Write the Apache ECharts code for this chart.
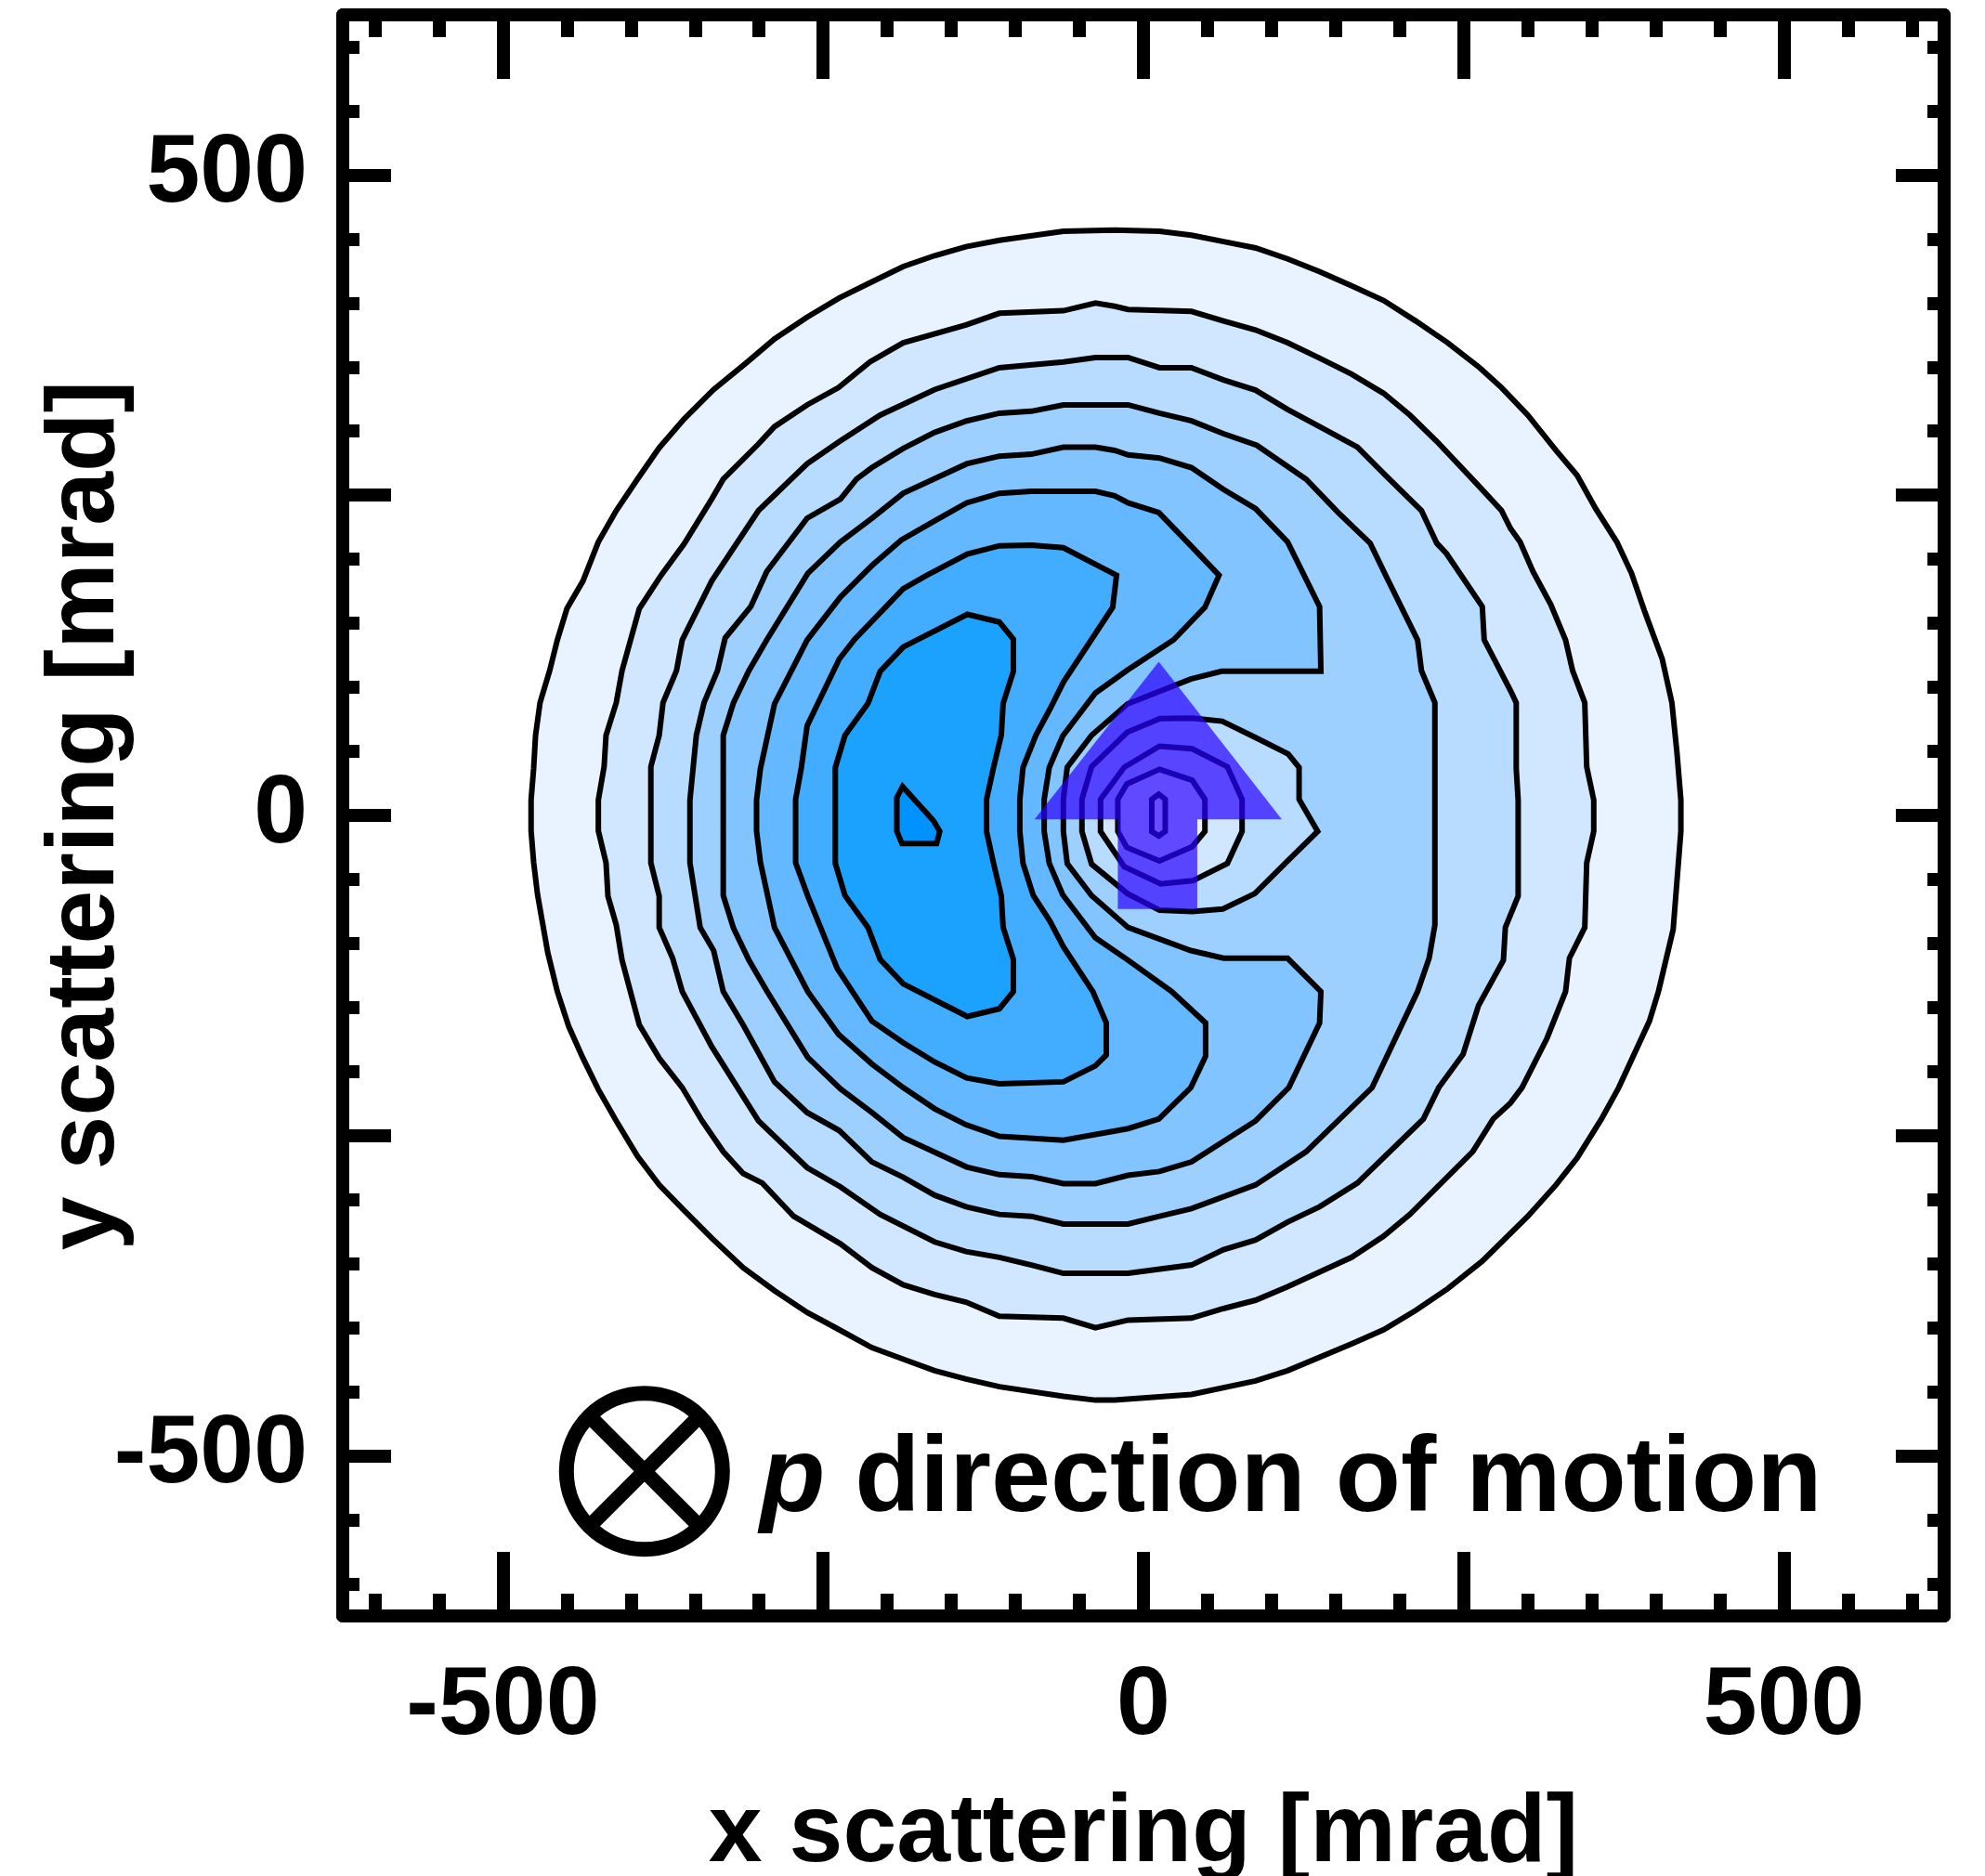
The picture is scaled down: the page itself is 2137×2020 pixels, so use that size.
<!DOCTYPE html>
<html>
<head>
<meta charset="utf-8">
<title>Scattering distribution</title>
<script src="https://cdn.jsdelivr.net/npm/echarts@6/dist/echarts.min.js"></script>
<style>
  html, body { margin: 0; padding: 0; background: #fff; }
  #chart { width: 2137px; height: 2020px; }
</style>
</head>
<body>
<div id="chart"></div>
<script>
// axis ticks and labels (mrad)
const majorTicks = [-500, -250, 0, 250, 500];
const minorTicks = [-600, -550, -500, -450, -400, -350, -300, -250, -200, -150, -100, -50,
  0, 50, 100, 150, 200, 250, 300, 350, 400, 450, 500, 550, 600];
const tickLabels = [-500, 0, 500];

// contour outlines, [x, y] in mrad, outermost first
const contour1 = [
  [-478, 12], [-476, 36.5], [-474.5, 62.5], [-471, 88], [-463.5, 113], [-457.5, 137], [-450, 161.5],
  [-437.5, 183], [-425.5, 213.5], [-411.5, 238], [-395, 262.5], [-378, 287], [-358.5, 309.5],
  [-335.5, 332.5], [-311, 352.5], [-288, 372], [-262.5, 389], [-237.5, 404], [-212, 416.5],
  [-187.5, 428.5], [-163, 437], [-138.5, 444], [-112.5, 449], [-62.5, 456], [-22.5, 457],
  [12.5, 456], [37.5, 453], [62.5, 448], [87.5, 443], [112.5, 434.5], [137.5, 424.5], [162.5, 413.5],
  [187.5, 402], [212.5, 386], [237.5, 369], [262.5, 349.5], [279.5, 334], [300, 312.5], [322, 285],
  [338.5, 265.5], [353, 239.5], [369.5, 213.5], [381, 189], [391.5, 158.5], [405, 122], [412.5, 88],
  [416.5, 48.5], [419.5, 12],
  [419.5, -12.5], [413.5, -89], [402, -137.5], [395, -160.5], [371, -212.5], [357.5, -237],
  [338.5, -267.5], [322, -288.5], [300, -313], [264.5, -348], [237.5, -369.5], [212.5, -386.5],
  [187.5, -401.5], [162.5, -412.5], [112.5, -433.5], [87.5, -441.5], [37.5, -452], [-22.5, -456.5],
  [-37.5, -456.5], [-62.5, -453.5], [-112.5, -446], [-138.5, -440], [-163, -433.5], [-187.5, -424.5],
  [-212, -415.5], [-237.5, -401.5], [-262.5, -388], [-288, -371], [-312.5, -353], [-337, -330],
  [-358.5, -308.5], [-378, -288.5], [-395, -266], [-411.5, -238.5], [-425.5, -214], [-437.5, -189.5],
  [-448.5, -165], [-457.5, -137.5], [-465, -107], [-473, -61.5], [-476, -36.5], [-478, -12]
];
const contour2 = [
  [-425.5, 12], [-421, 38], [-419.5, 62.5], [-411.5, 88], [-407, 113], [-393.5, 161.5], [-376.5, 187.5],
  [-358.5, 212], [-337, 247], [-328, 262.5], [-300.5, 290], [-288, 303.5], [-262.5, 320.5],
  [-238, 334], [-213.5, 354], [-187.5, 369], [-138.5, 383], [-112.5, 392], [-62.5, 394],
  [-37.5, 400], [-22.5, 397.5], [-12, 395],
  [37.5, 393.5], [62.5, 386], [87.5, 379], [112.5, 369], [137.5, 357], [162.5, 344.5], [187.5, 329.5],
  [208, 312.5], [229, 292], [261.5, 257.5], [279.5, 238], [286.5, 224], [294, 213.5], [304, 190.5],
  [318, 164.5], [329.5, 137], [335, 113], [344.5, 88], [346, 38], [351.5, 12],
  [351.5, -12.5], [346, -37], [344.5, -87.5], [332.5, -111.5], [329.5, -137.5], [315, -174],
  [295.5, -212.5], [286.5, -224.5], [273, -237], [257, -262.5], [208, -311.5], [187.5, -328.5],
  [162.5, -345], [112.5, -368], [87.5, -378.5], [62.5, -385], [37.5, -392.5], [-12, -394],
  [-37.5, -400], [-62.5, -392.5], [-112.5, -391], [-138.5, -380], [-163, -374], [-187.5, -366.5],
  [-212, -353], [-236.5, -334.5], [-273, -313], [-297.5, -287], [-312.5, -279.5], [-328, -262.5],
  [-344.5, -238.5], [-360, -212.5], [-378, -189.5], [-393.5, -163.5], [-407, -113], [-411.5, -85.5],
  [-418, -63], [-419.5, -37], [-425.5, -12]
];
const contour3 = [
  [-384.5, 12], [-384.5, 38], [-378, 62.5], [-375, 88], [-364.5, 113], [-360, 137], [-337, 183],
  [-300.5, 238], [-262.5, 274.5], [-238, 291.5], [-205.5, 312.5], [-163, 332.5], [-112.5, 349.5],
  [-62.5, 354], [-37.5, 357.5], [-12, 357.5],
  [12.5, 349.5], [37.5, 349.5], [62.5, 340], [87.5, 332], [112.5, 317], [137.5, 303.5], [167, 287.5],
  [189, 265.5], [217, 238], [229, 212.5], [236.5, 204.5], [264.5, 163], [266, 137], [286.5, 97.5],
  [291, 88], [291, 36.5], [292.5, 12],
  [292.5, -12.5], [292.5, -63], [282.5, -87.5], [281, -113], [261.5, -148.5], [249.5, -186.5],
  [230.5, -212.5], [218.5, -237], [167, -287], [137.5, -305.5], [112.5, -317.5], [87.5, -331.5],
  [62.5, -339], [37.5, -351], [-12, -357.5],
  [-62.5, -357.5], [-87.5, -351], [-112.5, -345], [-138.5, -340.5], [-163, -333], [-205.5, -311.5],
  [-236.5, -290], [-262.5, -275], [-300.5, -238.5], [-337, -180.5], [-360, -137.5], [-367.5, -111.5],
  [-378, -87.5], [-378, -63], [-384.5, -37], [-384.5, -12]
];
const contour4 = [
  [-354, 12], [-349, 62.5], [-343, 88], [-332.5, 113], [-326.5, 138.5], [-306.5, 163], [-294, 190.5],
  [-262.5, 232], [-236.5, 247], [-224, 262.5], [-212, 271.5], [-187.5, 286.5], [-163, 299],
  [-138, 308], [-112.5, 314], [-87.5, 315.5], [-62.5, 320.5], [-12, 320.5],
  [12.5, 314], [37.5, 308], [62.5, 298], [88.5, 289], [127, 262.5], [152, 236.5], [177, 212.5],
  [190.5, 184.5], [214, 137], [217, 113], [227.5, 88], [227.5, 12],
  [227.5, -12], [227.5, -85.5], [223, -111.5], [214, -137.5], [178.5, -212.5], [127, -262.5],
  [87.5, -288.5], [37.5, -307], [12.5, -313], [-12, -319],
  [-62.5, -319], [-87.5, -313], [-112.5, -311.5], [-138.5, -305.5], [-163, -296.5], [-187.5, -282.5],
  [-212, -270.5], [-237.5, -246], [-262.5, -232], [-288, -208], [-312.5, -163.5], [-328, -137.5],
  [-335.5, -105.5], [-346, -87.5], [-354, -37], [-354, -12]
];
const contour5 = [
  [-328, 12], [-328, 62.5], [-320, 88], [-308, 113], [-294, 137], [-262, 189], [-236.5, 213.5],
  [-212, 232], [-187.5, 251.5], [-138, 274.5], [-112.5, 280.5], [-87.5, 282], [-62.5, 287.5],
  [-37.5, 287.5], [-22.5, 285], [-12, 281.5], [12.5, 279], [37.5, 271.5], [62.5, 254.5], [87.5, 239.5],
  [112.5, 213.5], [137.5, 163], [138.5, 112.5],
  [61, 112.5], [37, 106.5], [-12.5, 87], [-40.5, 62.5], [-59.5, 37.5], [-62.5, 12.5],
  [-62.5, -12.5], [-59.5, -37.5], [-40.5, -62.5], [-12, -87.5], [37, -105.5], [62.5, -111.5],
  [112.5, -111.5], [138.5, -137.5], [137.5, -162], [113.5, -212.5], [87.5, -238.5], [37.5, -270.5],
  [12.5, -278], [-12, -281],
  [-37.5, -287.5], [-62.5, -287.5], [-87.5, -282], [-112.5, -280.5], [-138, -274.5], [-187.5, -251.5],
  [-212, -232], [-236.5, -213.5], [-262, -189], [-294, -137], [-308, -113], [-320, -88],
  [-328, -62.5], [-328, -12]
];
const contour6 = [
  [-302, 12], [-299, 36.5], [-288, 87], [-262.5, 137], [-236.5, 170.5], [-212, 195], [-189, 215],
  [-163, 230], [-138, 244], [-112.5, 251.5], [-87.5, 253], [-37.5, 253], [-22.5, 249.5], [-12, 244],
  [12, 236.5], [37, 210.5], [59, 187.5], [48, 162.5], [23.5, 137], [-12.5, 113.5],
  [-37.5, 95.5], [-63, 62], [-73.5, 37.5], [-77.5, 12.5],
  [-77.5, -12.5], [-73.5, -37.5], [-63, -62], [-37.5, -95.5], [-12, -113], [22, -137.5],
  [48.5, -162], [48.5, -188], [37, -212.5], [12, -237], [-12, -244.5],
  [-62.5, -253.5], [-112.5, -250.5], [-138.5, -241.5], [-163, -229], [-187.5, -212.5], [-212, -194],
  [-238, -171], [-262, -137.5], [-288, -87.5], [-299, -36.5], [-302, -12]
];
const contour7 = [
  [-271.5, 12.5], [-267, 37.5], [-262.5, 70], [-237.5, 122], [-225.5, 137.5], [-187.5, 177],
  [-169, 187.5], [-137.5, 204], [-112.5, 210.5], [-87.5, 211], [-62.5, 209], [-21, 187.5],
  [-24, 162.5], [-62.5, 104], [-73, 83], [-84, 62.5], [-94, 37.5], [-96.5, 12.5],
  [-96.5, -12.5], [-94, -37.5], [-86, -62.5], [-73, -82.5], [-62.5, -102.5], [-39.5, -137.5],
  [-29, -162], [-29, -187], [-37.5, -195.5], [-62.5, -208], [-112.5, -209.5], [-138, -205],
  [-163, -192.5], [-187.5, -177.5], [-212, -160.5], [-239, -119.5], [-262, -63], [-271.5, -37],
  [-271.5, -12.5]
];
const contour8 = [
  [-137.5, 157], [-112.5, 151], [-101.5, 137.5], [-101.5, 112.5], [-109.5, 87.5], [-111, 62.5],
  [-117, 37.5], [-122.5, 12.5], [-122.5, -12.5], [-117, -37.5], [-111, -62.5], [-109.5, -87.5],
  [-101.5, -112.5], [-101.5, -137.5], [-112.5, -151], [-137.5, -157], [-187.5, -131.5],
  [-205.5, -112.5], [-215, -87.5], [-233, -62.5], [-240.5, -37.5], [-240.5, 37.5], [-233, 62.5],
  [-215, 87.5], [-205.5, 112.5], [-187.5, 131.5]
];
const contour9 = [
  [-188, 22.5], [-192.5, 14], [-192.5, -12.5], [-188.5, -22], [-161.5, -22], [-159, -12.5], [-164, -4]
];
// closed loops round the dip near the origin, outermost first
const dipLoop1 = [
  [12.5, 75.5], [38, 76], [61.5, 73.5], [88, 60.5], [113, 48], [121.5, 37.5], [121.5, 12.5],
  [136, -12.5], [113, -35], [87, -61], [62, -73], [38, -75], [12.5, -74], [-12.5, -61],
  [-40.5, -38], [-48, -12.5], [-48, 12.5], [-40.5, 38], [-12.5, 65]
];
const dipLoop2 = [
  [12.5, 54], [38, 52], [65.5, 38], [77, 12.5], [77, -12.5], [65.5, -37.5], [38.5, -51],
  [13.5, -53.5], [-15, -40], [-33.5, -12.5], [-33.5, 12.5], [-15, 37.5]
];
const dipLoop3 = [
  [12.5, 36], [38, 27.5], [48, 12.5], [48, -12.5], [38, -24.5], [12.5, -35.5], [-13, -25],
  [-20, -12.5], [-20, 12.5], [-13, 24.5]
];
const dipLoop4 = [
  [6.5, 12.5], [12, 16.5], [17, 12.5], [17, -12.5], [12, -16], [6.5, -12.5]
];

// annotation geometry (mrad)
const arrowShape = [[-85, -3], [12, 120], [108, -3], [42, -3], [42, -73], [-20, -73], [-20, -3]];
const legendMarkCenter = [-389.5, -512];
const legendTextPos = [-299.5, -520];

const FONT = '"Liberation Sans", Arial, Helvetica, sans-serif';
const LINE_W = 6;

const contours = [
  { pts: contour1, fill: '#e8f3ff' },
  { pts: contour2, fill: '#d1e7ff' },
  { pts: contour3, fill: '#b8dcff' },
  { pts: contour4, fill: '#9ed0ff' },
  { pts: contour5, fill: '#82c4ff' },
  { pts: contour6, fill: '#63b8ff' },
  { pts: contour7, fill: '#42acff' },
  { pts: contour8, fill: '#1ba2ff' },
  { pts: contour9, fill: '#0093ff' },
  { pts: dipLoop1, fill: '#b8dcff' },
  { pts: dipLoop2, fill: '#d1e7ff' },
  { pts: dipLoop3, fill: '#e8f3ff' },
  { pts: dipLoop4, fill: '#ffffff' }
];

const labelFont = { fontFamily: FONT, fontWeight: 'bold', fontSize: 104, color: '#000' };

function axis(position, ticks, tickLen, main, labelMargin) {
  return {
    type: 'value',
    position: position,
    min: -625,
    max: 625,
    axisLine: { show: main, onZero: false, lineStyle: { color: '#000', width: 14 } },
    axisTick: { show: true, inside: true, length: tickLen, customValues: ticks,
      lineStyle: { color: '#000', width: 14 } },
    axisLabel: labelMargin ? Object.assign({ show: true, customValues: tickLabels, margin: labelMargin }, labelFont)
      : { show: false },
    splitLine: { show: false }
  };
}

const chart = echarts.init(document.getElementById('chart'));

const xMain = axis('bottom', majorTicks, 69, true, 46);
xMain.name = 'x scattering [mrad]';
xMain.nameLocation = 'middle';
xMain.nameGap = 183;
xMain.nameMoveOverlap = false;
xMain.nameTextStyle = labelFont;

const yMain = axis('left', majorTicks, 52, true, 38);
yMain.name = 'y scattering [mrad]';
yMain.nameLocation = 'middle';
yMain.nameRotate = 90;
yMain.nameGap = 224;
yMain.nameMoveOverlap = false;
yMain.nameTextStyle = labelFont;

chart.setOption({
  animation: false,
  backgroundColor: '#fff',
  grid: { left: 369, right: 44, top: 16, bottom: 280, outerBoundsMode: 'none', containLabel: false },
  xAxis: [
    xMain,
    axis('bottom', minorTicks, 24, false, 0),
    axis('top', majorTicks, 69, true, 0),
    axis('top', minorTicks, 24, false, 0)
  ],
  yAxis: [
    yMain,
    axis('left', minorTicks, 18, false, 0),
    axis('right', majorTicks, 52, true, 0),
    axis('right', minorTicks, 18, false, 0)
  ],
  series: [
    {
      type: 'custom',
      coordinateSystem: 'cartesian2d',
      xAxisIndex: 0,
      yAxisIndex: 0,
      silent: true,
      data: contours.map((c, i) => [c.pts[0][0], c.pts[0][1], i]),
      encode: { x: 0, y: 1 },
      renderItem: function (params, api) {
        const c = contours[params.dataIndex];
        return {
          type: 'polygon',
          shape: { points: c.pts.map(p => api.coord(p)) },
          style: { fill: c.fill, stroke: '#000', lineWidth: LINE_W, lineJoin: 'miter' }
        };
      }
    },
    {
      // direction arrow
      type: 'custom',
      coordinateSystem: 'cartesian2d',
      silent: true,
      z: 5,
      data: [[arrowShape[1][0], arrowShape[1][1]]],
      encode: { x: 0, y: 1 },
      renderItem: function (params, api) {
        return {
          type: 'polygon',
          shape: { points: arrowShape.map(p => api.coord(p)) },
          style: { fill: 'rgba(40, 0, 255, 0.7)', stroke: null }
        };
      }
    },
    {
      // "into the page" marker and caption
      type: 'custom',
      coordinateSystem: 'cartesian2d',
      silent: true,
      z: 6,
      data: [[legendMarkCenter[0], legendMarkCenter[1]]],
      encode: { x: 0, y: 1 },
      renderItem: function (params, api) {
        const c = api.coord(legendMarkCenter);
        const t = api.coord(legendTextPos);
        const r = 84;
        const d = r * Math.SQRT1_2;
        const textFont = { fontFamily: FONT, fontWeight: 'bold', fontSize: 115 };
        return {
          type: 'group',
          children: [
            { type: 'circle', shape: { cx: c[0], cy: c[1], r: r },
              style: { fill: 'transparent', stroke: '#000', lineWidth: 16 } },
            { type: 'line', shape: { x1: c[0] - d, y1: c[1] - d, x2: c[0] + d, y2: c[1] + d },
              style: { stroke: '#000', lineWidth: 16 } },
            { type: 'line', shape: { x1: c[0] - d, y1: c[1] + d, x2: c[0] + d, y2: c[1] - d },
              style: { stroke: '#000', lineWidth: 16 } },
            { type: 'text', x: t[0], y: t[1],
              style: {
                text: '{i|p}{n| direction of motion}',
                align: 'left', verticalAlign: 'middle', fill: '#000',
                fontFamily: FONT, fontWeight: 'bold', fontSize: 115,
                rich: {
                  i: Object.assign({ fontStyle: 'italic' }, textFont),
                  n: Object.assign({ fontStyle: 'normal' }, textFont)
                }
              } }
          ]
        };
      }
    }
  ]
});
</script>
</body>
</html>
